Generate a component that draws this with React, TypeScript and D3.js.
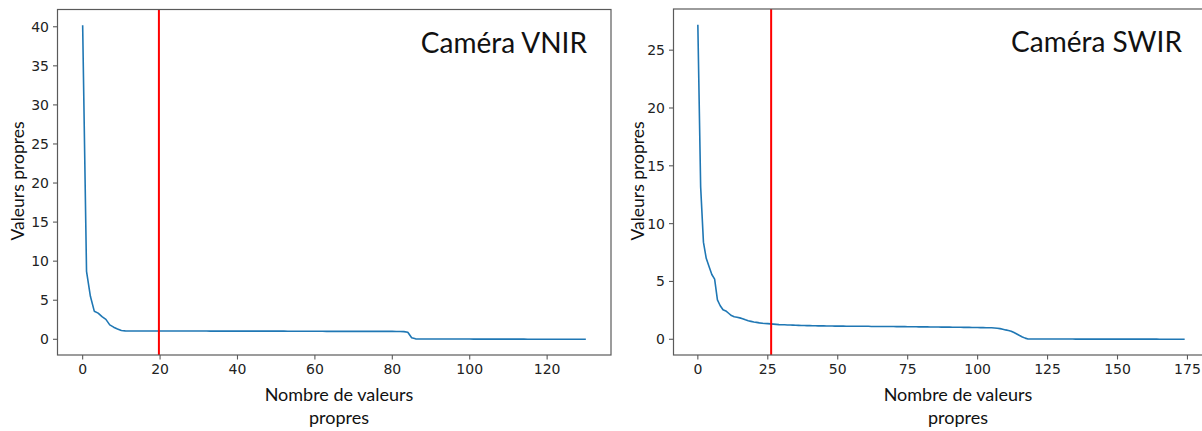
import React from "react";
import * as d3 from "d3";

// Eigenvalue spectra (scree plots) for the two cameras.
const vnirEigenvalues: number[] = [
  40.2, 8.7, 5.5, 3.6, 3.35, 2.9, 2.55, 1.85, 1.55, 1.32,
  1.12, 1.08, 1.07, 1.07, 1.07, 1.07, 1.07, 1.07, 1.07, 1.07,
  1.07, 1.07, 1.07, 1.06, 1.06, 1.06, 1.06, 1.06, 1.06, 1.06,
  1.06, 1.06, 1.06, 1.05, 1.05, 1.05, 1.05, 1.05, 1.05, 1.05,
  1.05, 1.05, 1.05, 1.04, 1.04, 1.04, 1.04, 1.04, 1.04, 1.04,
  1.04, 1.04, 1.04, 1.03, 1.03, 1.03, 1.03, 1.03, 1.03, 1.03,
  1.03, 1.03, 1.03, 1.02, 1.02, 1.02, 1.02, 1.02, 1.02, 1.02,
  1.02, 1.02, 1.02, 1.01, 1.01, 1.01, 1.01, 1.01, 1.01, 1.01,
  1.01, 1.0, 0.99, 0.98, 0.9, 0.2, 0.06, 0.04, 0.04, 0.04,
  0.04, 0.04, 0.03, 0.03, 0.03, 0.03, 0.03, 0.03, 0.03, 0.03,
  0.03, 0.02, 0.02, 0.02, 0.02, 0.02, 0.02, 0.02, 0.02, 0.02,
  0.02, 0.02, 0.02, 0.02, 0.02, 0.01, 0.01, 0.01, 0.01, 0.01,
  0.01, 0.01, 0.01, 0.01, 0.01, 0.01, 0.01, 0.01, 0.01, 0.01,
  0.0,
];

const swirEigenvalues: number[] = [
  27.2, 13.2, 8.4, 7.0, 6.3, 5.6, 5.2, 3.4, 2.9, 2.55,
  2.45, 2.25, 2.05, 1.95, 1.9, 1.85, 1.78, 1.68, 1.6, 1.55,
  1.5, 1.46, 1.42, 1.39, 1.37, 1.35, 1.33, 1.31, 1.29, 1.27,
  1.26, 1.25, 1.24, 1.23, 1.22, 1.21, 1.2, 1.19, 1.19, 1.18,
  1.18, 1.17, 1.17, 1.16, 1.16, 1.16, 1.15, 1.15, 1.15, 1.14,
  1.14, 1.14, 1.14, 1.13, 1.13, 1.13, 1.13, 1.12, 1.12, 1.12,
  1.12, 1.12, 1.11, 1.11, 1.11, 1.11, 1.11, 1.1, 1.1, 1.1,
  1.1, 1.09, 1.09, 1.09, 1.09, 1.08, 1.08, 1.08, 1.08, 1.07,
  1.07, 1.07, 1.07, 1.06, 1.06, 1.06, 1.06, 1.05, 1.05, 1.05,
  1.05, 1.04, 1.04, 1.04, 1.04, 1.03, 1.03, 1.03, 1.02, 1.02,
  1.02, 1.01, 1.01, 1.0, 1.0, 0.99, 0.97, 0.95, 0.92, 0.87,
  0.81, 0.76, 0.7, 0.58, 0.45, 0.32, 0.2, 0.1, 0.03, 0.02,
  0.02, 0.02, 0.02, 0.02, 0.02, 0.02, 0.02, 0.02, 0.02, 0.02,
  0.02, 0.02, 0.02, 0.02, 0.02, 0.01, 0.01, 0.01, 0.01, 0.01,
  0.01, 0.01, 0.01, 0.01, 0.01, 0.01, 0.01, 0.01, 0.01, 0.01,
  0.01, 0.01, 0.01, 0.01, 0.01, 0.01, 0.01, 0.01, 0.01, 0.01,
  0.01, 0.01, 0.01, 0.01, 0.01, 0.0, 0.0, 0.0, 0.0, 0.0,
  0.0, 0.0, 0.0, 0.0, 0.0,
];

// Number of components retained (red cut-off line).
const vnirCutoff = 19.7;
const swirCutoff = 26.2;

const vnirXTicks = [0, 20, 40, 60, 80, 100, 120];
const vnirYTicks = [0, 5, 10, 15, 20, 25, 30, 35, 40];
const swirXTicks = [0, 25, 50, 75, 100, 125, 150, 175];
const swirYTicks = [0, 5, 10, 15, 20, 25];

const titles = ["Caméra VNIR", "Caméra SWIR"];
const yLabel = "Valeurs propres";
const xLabelLines = ["Nombre de valeurs", "propres"];

const W = 1202;
const H = 431;
const LINE = "#1f77b4";
const SPINE = "#5a5a5a";
const TICK_FONT = "'DejaVu Sans', sans-serif";
const LABEL_FONT = "Lato, 'Open Sans', sans-serif";

type PanelProps = {
  values: number[];
  cutoff: number;
  xTicks: number[];
  yTicks: number[];
  left: number;
  right: number;
  top: number;
  bottom: number;
  title: string;
  titleX: number;
  titleY: number;
  yLabelX: number;
  xLabelX: number;
};

function Panel(p: PanelProps) {
  const n = p.values.length;
  const xMargin = (n - 1) * 0.05;
  const yMax = d3.max(p.values) as number;
  const yMin = d3.min(p.values) as number;
  const yMargin = (yMax - yMin) * 0.05;

  const x = d3
    .scaleLinear()
    .domain([-xMargin, n - 1 + xMargin])
    .range([p.left, p.right]);
  const y = d3
    .scaleLinear()
    .domain([yMin - yMargin, yMax + yMargin])
    .range([p.bottom, p.top]);

  const line = d3
    .line<number>()
    .x((_, i) => x(i))
    .y((d) => y(d));

  const clipId = `clip-${p.title.replace(/\W/g, "")}`;

  return (
    <g>
      <defs>
        <clipPath id={clipId}>
          <rect x={p.left} y={p.top} width={p.right - p.left} height={p.bottom - p.top} />
        </clipPath>
      </defs>

      <g clipPath={`url(#${clipId})`}>
        <path d={line(p.values) || ""} fill="none" stroke={LINE} strokeWidth={1.6} strokeLinejoin="round" />
        <line x1={x(p.cutoff)} x2={x(p.cutoff)} y1={p.top} y2={p.bottom} stroke="#ff0000" strokeWidth={2} />
      </g>

      {/* frame */}
      <rect
        x={p.left}
        y={p.top}
        width={p.right - p.left}
        height={p.bottom - p.top}
        fill="none"
        stroke={SPINE}
        strokeWidth={1.2}
      />

      {/* y axis ticks */}
      {p.yTicks.map((t) => (
        <g key={`y${t}`}>
          <line x1={p.left - 4.5} x2={p.left} y1={y(t)} y2={y(t)} stroke={SPINE} strokeWidth={1.1} />
          <text
            x={p.left - 8.5}
            y={y(t)}
            dy="0.36em"
            textAnchor="end"
            fontFamily={TICK_FONT}
            fontSize={14}
            fill="#222"
          >
            {t}
          </text>
        </g>
      ))}

      {/* x axis ticks */}
      {p.xTicks.map((t) => (
        <g key={`x${t}`}>
          <line x1={x(t)} x2={x(t)} y1={p.bottom} y2={p.bottom + 4.5} stroke={SPINE} strokeWidth={1.1} />
          <text
            x={x(t)}
            y={p.bottom + 18.5}
            textAnchor="middle"
            fontFamily={TICK_FONT}
            fontSize={14}
            fill="#222"
          >
            {t}
          </text>
        </g>
      ))}

      <text
        x={p.titleX}
        y={p.titleY}
        textAnchor="end"
        fontFamily={LABEL_FONT}
        fontSize={28}
        fill="#111"
      >
        {p.title}
      </text>

      <text
        transform={`translate(${p.yLabelX},181) rotate(-90)`}
        textAnchor="middle"
        fontFamily={LABEL_FONT}
        fontSize={17.5}
        fill="#111"
      >
        {yLabel}
      </text>

      {xLabelLines.map((s, i) => (
        <text
          key={s}
          x={p.xLabelX}
          y={401 + i * 23}
          textAnchor="middle"
          fontFamily={LABEL_FONT}
          fontSize={18}
          fill="#111"
        >
          {s}
        </text>
      ))}
    </g>
  );
}

export default function App() {
  return (
    <svg
      width={W}
      height={H}
      viewBox={`0 0 ${W} ${H}`}
      style={{ position: "absolute", left: 0, top: 0, background: "#fff" }}
    >
      <rect width={W} height={H} fill="#fff" />
      <Panel
        values={vnirEigenvalues}
        cutoff={vnirCutoff}
        xTicks={vnirXTicks}
        yTicks={vnirYTicks}
        left={57.5}
        right={611}
        top={9.5}
        bottom={355}
        title={titles[0]}
        titleX={587}
        titleY={53}
        yLabelX={24}
        xLabelX={339}
      />
      <Panel
        values={swirEigenvalues}
        cutoff={swirCutoff}
        xTicks={swirXTicks}
        yTicks={swirYTicks}
        left={673.5}
        right={1209}
        top={9}
        bottom={355}
        title={titles[1]}
        titleX={1182}
        titleY={52}
        yLabelX={644}
        xLabelX={958}
      />
    </svg>
  );
}
